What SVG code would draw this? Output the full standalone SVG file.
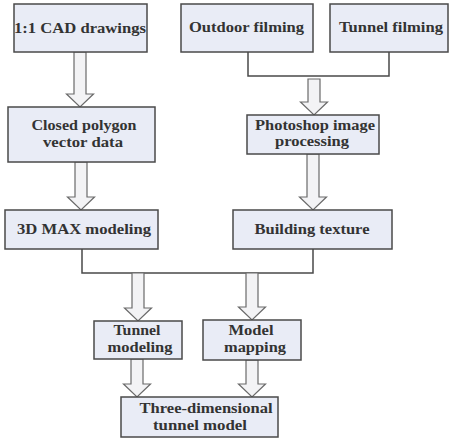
<svg xmlns="http://www.w3.org/2000/svg" width="449" height="440" viewBox="0 0 449 440">
<style>
.box{fill:#e9ecf6;stroke:#4a4a4a;stroke-width:1.5}
.t{font-family:"Liberation Serif","Times New Roman",serif;font-weight:bold;font-size:14.5px;fill:#333;text-anchor:middle}
.arr{fill:#f3f3f5;stroke:#6a6a6a;stroke-width:1.2;stroke-linejoin:miter}
.ln{fill:none;stroke:#4a4a4a;stroke-width:1.5}
</style>
<rect width="449" height="440" fill="#fff"/>
<g id="connectors">
<polyline class="ln" points="248,52 248,76 389,76 389,52"/>
<polyline class="ln" points="82,249 82,273 313,273 313,249"/>
<path class="arr" d="M74,52 L86,52 L86,94 L93.5,94 L80,107 L66.5,94 L74,94 Z"/>
<path class="arr" d="M75,162 L87,162 L87,197 L94.5,197 L81,210 L67.5,197 L75,197 Z"/>
<path class="arr" d="M308,79 L320,79 L320,102 L327.5,102 L314,115 L300.5,102 L308,102 Z"/>
<path class="arr" d="M307,154 L319,154 L319,197 L326.5,197 L313,210 L299.5,197 L307,197 Z"/>
<path class="arr" d="M132,273 L144,273 L144,308 L151.5,308 L138,321 L124.5,308 L132,308 Z"/>
<path class="arr" d="M246,273 L258,273 L258,307 L265.5,307 L252,320 L238.5,307 L246,307 Z"/>
<path class="arr" d="M131,359 L143,359 L143,384 L150.5,384 L137,397 L123.5,384 L131,384 Z"/>
<path class="arr" d="M246,360 L258,360 L258,384 L265.5,384 L252,397 L238.5,384 L246,384 Z"/>
</g>
<g id="cad"><rect class="box" x="14" y="4" width="133" height="48"/><text class="t" x="80" y="33" textLength="132" lengthAdjust="spacingAndGlyphs">1:1 CAD drawings</text></g>
<g id="outdoor"><rect class="box" x="181" y="4" width="132" height="48"/><text class="t" x="246.5" y="32" textLength="115" lengthAdjust="spacingAndGlyphs">Outdoor filming</text></g>
<g id="tunnelfilm"><rect class="box" x="330" y="4" width="118" height="48"/><text class="t" x="391" y="32" textLength="104" lengthAdjust="spacingAndGlyphs">Tunnel filming</text></g>
<g id="closed"><rect class="box" x="8" y="107" width="147" height="55"/><text class="t" x="84" y="130" textLength="105" lengthAdjust="spacingAndGlyphs">Closed polygon</text><text class="t" x="83" y="147" textLength="80" lengthAdjust="spacingAndGlyphs">vector data</text></g>
<g id="photoshop"><rect class="box" x="247" y="115" width="132" height="39"/><text class="t" x="315" y="130" textLength="120" lengthAdjust="spacingAndGlyphs">Photoshop image</text><text class="t" x="312" y="146" textLength="74" lengthAdjust="spacingAndGlyphs">processing</text></g>
<g id="max"><rect class="box" x="5" y="210" width="153" height="39"/><text class="t" x="84" y="234" textLength="134" lengthAdjust="spacingAndGlyphs">3D MAX modeling</text></g>
<g id="building"><rect class="box" x="233" y="210" width="159" height="39"/><text class="t" x="312" y="234" textLength="115" lengthAdjust="spacingAndGlyphs">Building texture</text></g>
<g id="tunnelmod"><rect class="box" x="94" y="321" width="88" height="38"/><text class="t" x="137" y="335" textLength="47" lengthAdjust="spacingAndGlyphs">Tunnel</text><text class="t" x="140" y="352" textLength="65" lengthAdjust="spacingAndGlyphs">modeling</text></g>
<g id="modelmap"><rect class="box" x="203" y="320" width="98" height="40"/><text class="t" x="251" y="335" textLength="45" lengthAdjust="spacingAndGlyphs">Model</text><text class="t" x="255" y="352" textLength="62" lengthAdjust="spacingAndGlyphs">mapping</text></g>
<g id="three"><rect class="box" x="121" y="397" width="157" height="40"/><text class="t" x="206" y="413" textLength="133" lengthAdjust="spacingAndGlyphs">Three-dimensional</text><text class="t" x="200" y="430" textLength="94" lengthAdjust="spacingAndGlyphs">tunnel model</text></g>
</svg>
